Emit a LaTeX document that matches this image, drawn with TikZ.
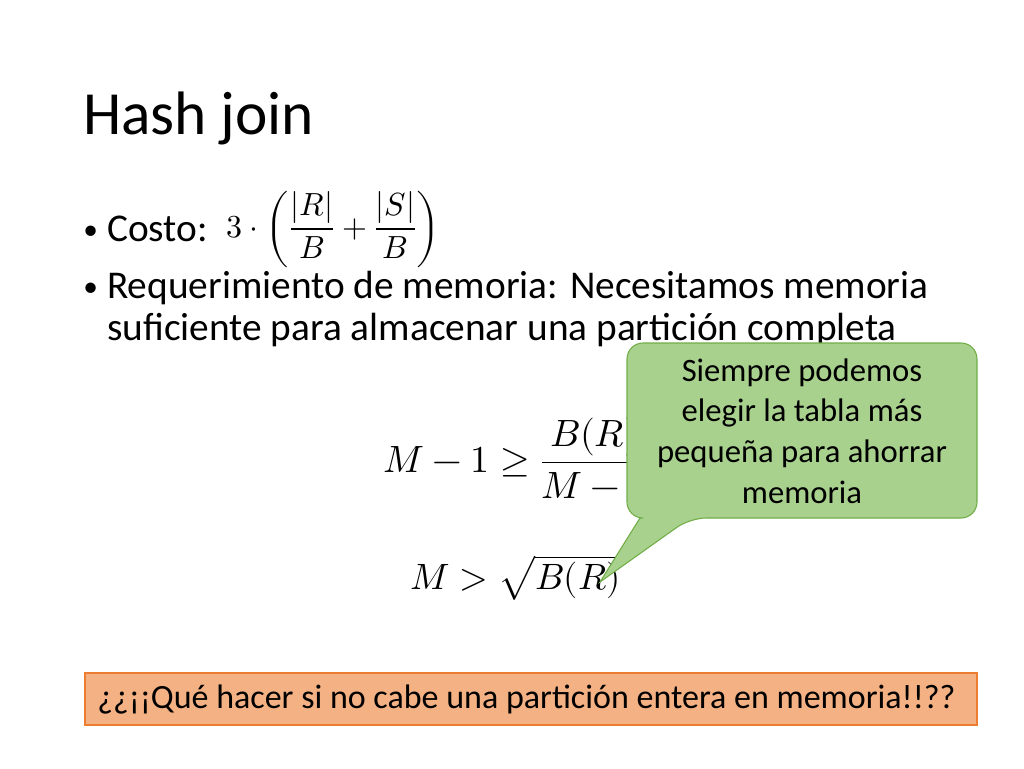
\documentclass[tikz,border=0pt]{standalone}
\usepackage{amsmath}
\usepackage{fontspec}
\setmainfont{Carlito}
\usepackage{unicode-math}
\setmathfont{Latin Modern Math}
\begin{document}
\begin{tikzpicture}[x=0.75pt,y=-0.75pt]
\tikzset{txt/.style={anchor=base west,inner sep=0pt},
  bfont/.style={font=\fontsize{29.5}{34}\selectfont},
  dot/.style={anchor=base west,inner sep=0pt,font=\fontsize{22}{26}\selectfont}}
\useasboundingbox (0,0) rectangle (1024,768);
\fill[white] (0,0) rectangle (1024,768);
\node[txt,font=\fontsize{46}{50}\selectfont] (title) at (83,134) {Hash join};
\node[dot] (d1) at (83,239) {•};
\node[txt,bfont] (b1) at (107,241) {Costo:};
\node[anchor=west,inner sep=0pt,font=\fontsize{24}{28}\selectfont] (cost) at (226,229) {$3\cdot\left(\dfrac{|R|}{B}+\dfrac{|S|}{B}\right)$};
\node[dot] (d2) at (83,296) {•};
\node[txt,bfont] (b2) at (107,298) {Requerimiento de memoria: Necesitamos memoria};
\node[txt,bfont] (b3) at (107,340) {suficiente para almacenar una partición completa};
\node[anchor=west,inner sep=0pt,font=\fontsize{28.5}{34}\selectfont] (eq1) at (383,458) {$M-1\geq\dfrac{B(R)}{M-1}$};
\node[anchor=west,inner sep=0pt,font=\fontsize{27.5}{34}\selectfont] (eq2) at (410,578) {$M>\sqrt{B(R)}$};
\coordinate (tip) at (600,582);
\draw[fill={rgb,255:red,169;green,209;blue,142},draw={rgb,255:red,112;green,173;blue,71},line width=0.8pt,rounded corners=12pt]
  (627,343) -- (977,343) -- (977,518) -- (690,518) [sharp corners]-- (tip) -- (640,518) [rounded corners=12pt]-- (627,518) -- cycle;
\node[align=center,font=\fontsize{24.5}{30.5}\selectfont] (call) at (802,431) {Siempre podemos\\elegir la tabla más\\pequeña para ahorrar\\memoria};
\draw[draw={rgb,255:red,237;green,125;blue,49},fill={rgb,255:red,244;green,177;blue,131},line width=0.8pt] (85,673) rectangle (977,725);
\node[txt,font=\fontsize{25.5}{28}\selectfont] (q) at (97,708) {¿¿¡¡Qué hacer si no cabe una partición entera en memoria!!??};
\end{tikzpicture}
\end{document}
